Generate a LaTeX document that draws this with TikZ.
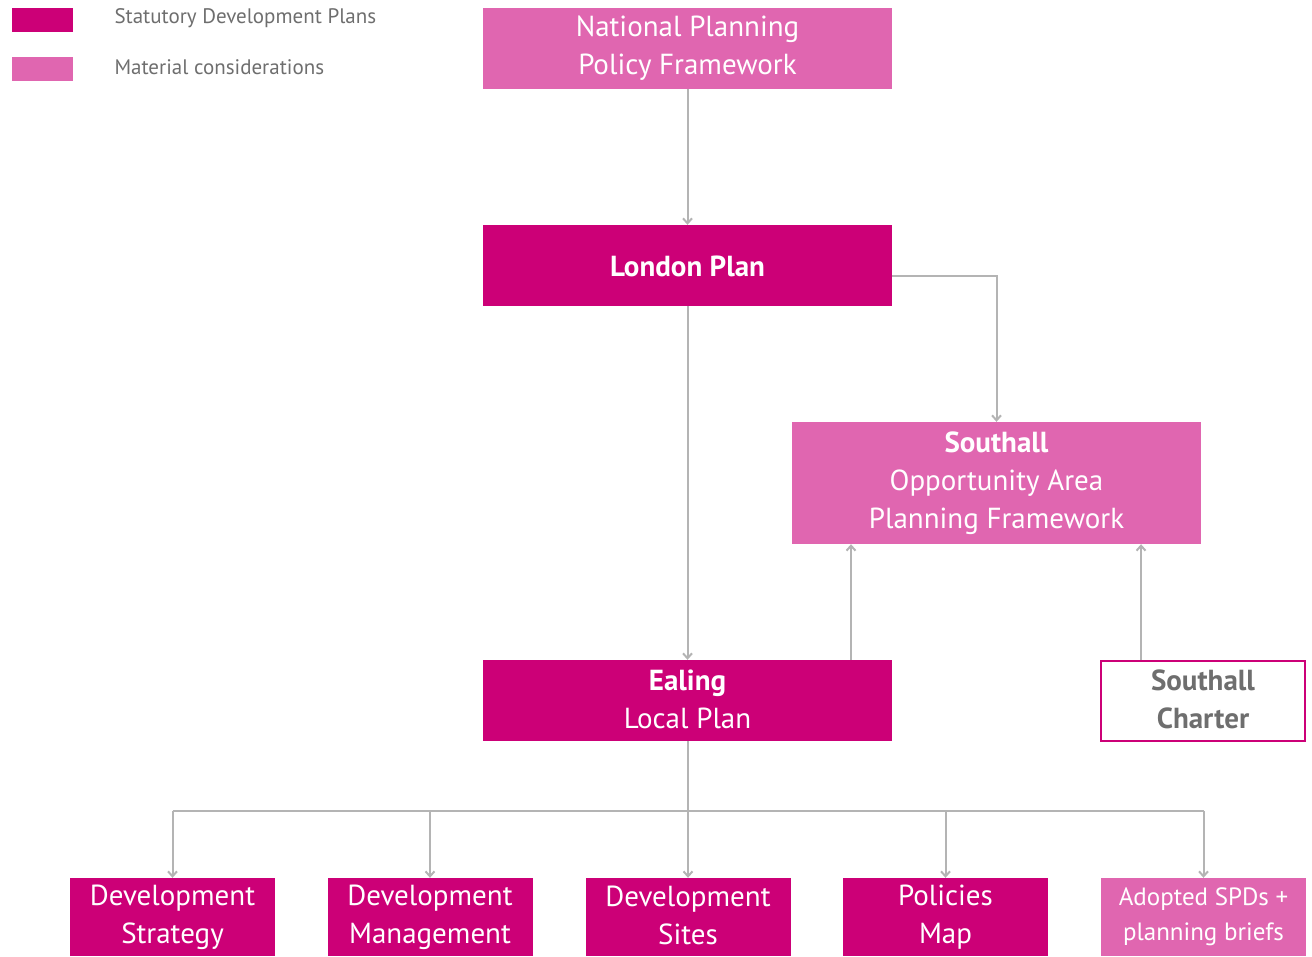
\documentclass[tikz,border=0pt]{standalone}
\usepackage{fontspec}
\setmainfont{PT Sans}
\usepackage{tikz}
\usetikzlibrary{positioning, arrows.meta, calc}
\usepackage{xcolor}
\definecolor{statpink}{HTML}{CC0077}
\definecolor{matpink}{HTML}{E066B0}
\definecolor{linkgrey}{HTML}{B4B4B4}
\definecolor{labelgrey}{HTML}{6E6E6E}
\newcommand{\boxstrut}{\rule[-3pt]{0pt}{27pt}}

\tikzset{
  planbox/.style={rectangle, inner sep=0pt, minimum width=409pt, minimum height=81pt,
    align=center, text=white, font=\fontsize{29}{38}\selectfont,
    execute at begin node=\boxstrut, execute at end node=\boxstrut},
  statbox/.style={planbox, fill=statpink},
  matbox/.style={planbox, fill=matpink},
  docbox/.style={planbox, minimum width=205pt, minimum height=78pt, fill=statpink},
  keybox/.style={rectangle, inner sep=0pt, minimum width=61pt, minimum height=24pt},
  keytext/.style={anchor=west, text=labelgrey, font=\fontsize{21}{24}\selectfont},
  link/.style={draw=linkgrey, line width=2pt, -{Straight Barb[length=5pt,width=9pt]}},
}

\begin{document}
\begin{tikzpicture}[x=1pt, y=-1pt]
\useasboundingbox (0,0) rectangle (1312,956);

% Legend
\node[keybox, fill=statpink] (keystat) at (42.5, 20) {};
\node[keytext] (keystattxt) at (111, 18) {Statutory Development Plans};
\node[keybox, fill=matpink] (keymat) at (42.5, 68.5) {};
\node[keytext] (keymattxt) at (111, 67) {Material considerations};

% Upper plans
\node[matbox] (nppf) at (687.5, 48.5) {National Planning\\Policy Framework};
\node[statbox] (london) at (687.5, 265.5) {\textbf{London Plan}};
\node[matbox, minimum height=122pt] (southall) at (996.5, 483) {\textbf{Southall}\\Opportunity Area\\Planning Framework};
\node[statbox] (ealing) at (687.5, 700.5) {\textbf{Ealing}\\Local Plan};
\node[planbox, fill=white, draw=statpink, line width=2pt, minimum width=204pt, minimum height=80pt,
  text=labelgrey] (charter) at (1203, 701) {\textbf{Southall}\\\textbf{Charter}};

% Local Plan documents
\node[docbox] (strategy) at (172.5, 917) {Development\\Strategy};
\node[docbox] (management) at (430, 917) {Development\\Management};
\node[docbox] (sites) at (688, 917) {Development\\Sites};
\node[docbox] (policies) at (945.5, 917) {Policies\\Map};
\node[docbox, fill=matpink, font=\fontsize{25}{35}\selectfont] (spds) at (1203.5, 917) {Adopted SPDs +\\planning briefs};

% Connectors
\draw[link] (nppf) -- (london);
\draw[link] ($(london.east)+(0,10.5)$) -| (southall.north);
\draw[link] (london) -- (ealing);
\coordinate (ealingup) at (851, 660);
\draw[link] (ealingup) -- (ealingup |- southall.south);
\coordinate (charterup) at (1141, 660);
\draw[link] (charterup) -- (charterup |- southall.south);

\coordinate (bus) at (687.5, 811);
\draw[linkgrey, line width=2pt] (ealing.south) -- (bus);
\draw[linkgrey, line width=2pt] (bus -| strategy.north) -- (bus -| spds.north);
\foreach \doc in {strategy, management, sites, policies, spds}
  \draw[link] (bus -| \doc.north) -- (\doc.north);
\end{tikzpicture}
\end{document}
